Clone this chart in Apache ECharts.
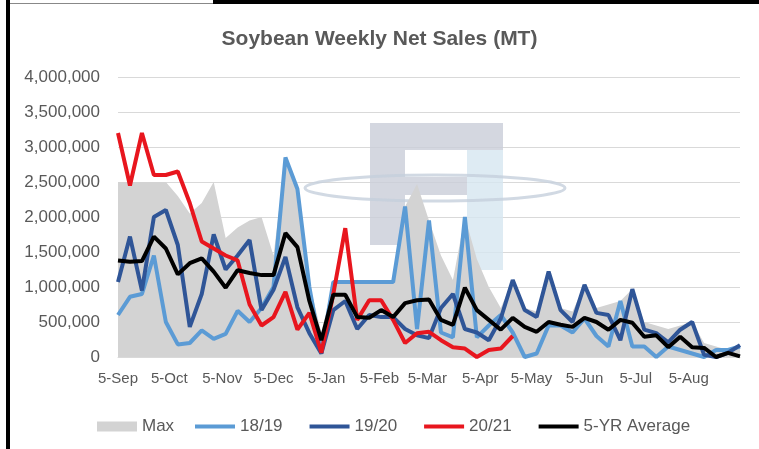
<!DOCTYPE html>
<html>
<head>
<meta charset="utf-8">
<script src="https://cdn.jsdelivr.net/npm/echarts@6/dist/echarts.min.js"></script>
<style>
html, body { margin: 0; padding: 0; background: #fff; }
#box {
    width: 759px;
    height: 449px;
    position: relative;
    overflow: hidden;
    box-sizing: border-box;
}
#main { width: 759px; height: 449px; }
</style>
</head>
<body>
<div id="box"><div id="main"></div></div>
<script>
// weekly dates (marketing year starting 5-Sep)
var weeks = [
    '2020-09-05','2020-09-12','2020-09-19','2020-09-26','2020-10-03','2020-10-10','2020-10-17','2020-10-24','2020-10-31',
    '2020-11-07','2020-11-14','2020-11-21','2020-11-28','2020-12-05','2020-12-12','2020-12-19','2020-12-26',
    '2021-01-02','2021-01-09','2021-01-16','2021-01-23','2021-01-30','2021-02-06','2021-02-13','2021-02-20','2021-02-27',
    '2021-03-06','2021-03-13','2021-03-20','2021-03-27','2021-04-03','2021-04-10','2021-04-17','2021-04-24',
    '2021-05-01','2021-05-08','2021-05-15','2021-05-22','2021-05-29','2021-06-05','2021-06-12','2021-06-19','2021-06-26',
    '2021-07-03','2021-07-10','2021-07-17','2021-07-24','2021-07-31','2021-08-07','2021-08-14','2021-08-21','2021-08-28',
    '2021-09-04'
];
var tickDates = ['2020-09-05','2020-10-05','2020-11-05','2020-12-05','2021-01-05','2021-02-05',
    '2021-03-05','2021-04-05','2021-05-05','2021-06-05','2021-07-05','2021-08-05'];
var tickLabels = ['5-Sep','5-Oct','5-Nov','5-Dec','5-Jan','5-Feb','5-Mar','5-Apr','5-May','5-Jun','5-Jul','5-Aug'];

var maxVals = [2500000,2500000,2500000,2500000,2500000,2300000,2050000,2200000,2500000,1700000,1850000,1950000,2000000,
    1450000,2850000,2400000,1050000,350000,1070000,1070000,1070000,1070000,1070000,1070000,2150000,2470000,1950000,
    1450000,1100000,2000000,1400000,1000000,700000,1100000,700000,650000,1220000,700000,650000,1030000,700000,750000,
    800000,970000,500000,450000,400000,450000,500000,200000,150000,100000,170000];
var y1819 = [600000,860000,900000,1450000,500000,180000,200000,380000,260000,330000,660000,500000,700000,
    1000000,2850000,2400000,1000000,50000,1070000,1070000,1070000,1070000,1070000,1070000,2150000,400000,1950000,
    350000,280000,2000000,280000,450000,600000,350000,0,50000,450000,450000,350000,550000,300000,150000,
    800000,150000,150000,0,150000,100000,50000,0,100000,100000,150000];
var y1920 = [1070000,1720000,950000,2000000,2100000,1600000,430000,900000,1750000,1250000,1450000,1670000,670000,
    960000,1430000,710000,340000,50000,670000,800000,400000,600000,570000,570000,400000,310000,270000,
    700000,900000,400000,350000,240000,550000,1100000,670000,570000,1220000,670000,500000,1030000,630000,600000,
    240000,970000,390000,340000,210000,390000,500000,30000,0,60000,170000];
var y2021 = [3200000,2450000,3200000,2600000,2600000,2650000,2200000,1650000,1550000,1450000,1380000,750000,450000,
    570000,930000,390000,630000,60000,900000,1840000,530000,810000,810000,530000,200000,340000,360000,
    240000,140000,120000,0,100000,120000,300000];
var avg5 = [1380000,1360000,1370000,1720000,1550000,1180000,1340000,1410000,1220000,990000,1240000,1200000,1170000,
    1170000,1770000,1570000,800000,240000,890000,890000,570000,560000,670000,570000,770000,810000,820000,
    530000,460000,990000,670000,530000,390000,560000,430000,360000,500000,460000,430000,560000,500000,390000,
    530000,490000,290000,310000,140000,290000,140000,130000,0,60000,10000];

function pairs(arr) {
    return arr.map(function (v, i) { return [Date.parse(weeks[i]), v]; });
}
function lineSeries(name, arr, color) {
    return {
        name: name,
        type: 'line',
        data: pairs(arr),
        symbol: 'none',
        lineStyle: { color: color, width: 4 },
        itemStyle: { color: color }
    };
}

var tickVals = tickDates.map(function (d) { return Date.parse(d); });
var txt = '#595959';
var legendText = { color: txt, fontSize: 17, fontFamily: 'Liberation Sans' };
var option = {
    animation: false,
    title: {
        text: 'Soybean Weekly Net Sales (MT)',
        left: 'center',
        top: 24,
        textStyle: { color: txt, fontSize: 21, fontWeight: 'bold', fontFamily: 'Liberation Sans' }
    },
    grid: { left: 118, right: 19, top: 77, bottom: 92 },
    // two legends: the area swatch is taller than the line swatches
    legend: [
        {
            left: 92,
            top: 413,
            itemWidth: 40,
            itemHeight: 10,
            textStyle: legendText,
            data: [{ name: 'Max', icon: 'rect' }]
        },
        {
            left: 190,
            top: 413,
            itemWidth: 40,
            itemHeight: 4,
            itemGap: 27,
            icon: 'rect',
            textStyle: legendText,
            data: ['18/19', '19/20', '20/21', '5-YR Average']
        }
    ],
    xAxis: {
        type: 'value',
        min: Date.parse(weeks[0]),
        max: Date.parse(weeks[weeks.length - 1]),
        axisLine: { show: true, lineStyle: { color: '#d9d9d9' } },
        axisTick: { show: false },
        splitLine: { show: false },
        axisLabel: {
            customValues: tickVals,
            margin: 14,
            color: txt,
            fontSize: 15,
            fontFamily: 'Liberation Sans',
            formatter: function (val) {
                var i = tickVals.indexOf(val);
                return i >= 0 ? tickLabels[i] : '';
            }
        }
    },
    yAxis: {
        type: 'value',
        min: 0,
        max: 4000000,
        interval: 500000,
        axisLine: { show: false },
        axisTick: { show: false },
        axisLabel: {
            margin: 18,
            color: txt,
            fontSize: 17,
            fontFamily: 'Liberation Sans',
            formatter: function (v) { return v.toLocaleString('en-US'); }
        },
        splitLine: { lineStyle: { color: '#d9d9d9', width: 1 } }
    },
    // faint logo watermark behind the lines
    graphic: [
        { type: 'rect', shape: { x: 370, y: 123, width: 133, height: 27 }, style: { fill: '#c9cdd8', opacity: 0.8 }, z: 1 },
        { type: 'rect', shape: { x: 370, y: 150, width: 35, height: 95 }, style: { fill: '#c9cdd8', opacity: 0.8 }, z: 1 },
        { type: 'rect', shape: { x: 405, y: 177, width: 62, height: 18 }, style: { fill: '#c9cdd8', opacity: 0.8 }, z: 1 },
        { type: 'rect', shape: { x: 467, y: 150, width: 36, height: 120 }, style: { fill: '#d6e6f0', opacity: 0.8 }, z: 1 },
        { type: 'ellipse', shape: { cx: 435, cy: 188, rx: 130, ry: 13 }, style: { fill: 'none', stroke: '#c6cfdc', lineWidth: 3, opacity: 0.8 }, z: 1 }
    ],
    series: [
        {
            name: 'Max',
            type: 'line',
            data: pairs(maxVals),
            symbol: 'none',
            lineStyle: { width: 0 },
            itemStyle: { color: '#d3d3d3' },
            areaStyle: { color: '#d3d3d3', opacity: 1 }
        },
        lineSeries('18/19', y1819, '#5b9bd5'),
        lineSeries('19/20', y1920, '#2f5597'),
        lineSeries('20/21', y2021, '#e8161e'),
        lineSeries('5-YR Average', avg5, '#000000')
    ]
};

var chartDom = document.getElementById('main');
var myChart = echarts.init(chartDom);
myChart.setOption(option);
</script>
<!-- frame: thick black left edge and top band like the screenshot -->
<div style="position:absolute;left:6px;top:0;width:4px;height:449px;background:#000;"></div>
<div style="position:absolute;left:213px;top:0;width:546px;height:4px;background:#000;"></div>
<div style="position:absolute;left:10px;top:3px;width:203px;height:1px;background:#888;"></div>
</body>
</html>
